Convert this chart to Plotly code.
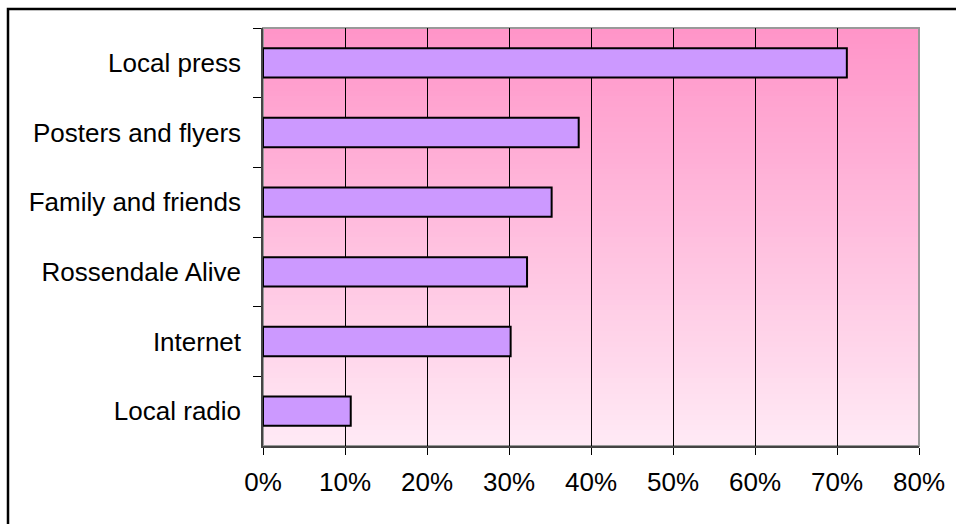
import plotly.graph_objects as go

categories = ["Local press", "Posters and flyers", "Family and friends",
              "Rossendale Alive", "Internet", "Local radio"]
values = [71.2, 38.5, 35.2, 32.2, 30.2, 10.7]
x_ticks = [0, 10, 20, 30, 40, 50, 60, 70, 80]
x_tick_labels = [f"{v}%" for v in x_ticks]

W, H = 956, 524
PL, PR, PT, PB = 263, 919, 28, 446  # plot area in pixels
FONT = "Liberation Sans, Arial, sans-serif"

fig = go.Figure()
fig.add_trace(go.Bar(
    x=values, y=categories, orientation="h",
    marker=dict(color="#cc99ff", line=dict(color="#000000", width=2)),
    hoverinfo="x+y",
))

# vertical gradient background of the plot area
shapes = []
N = 80
top = (255, 148, 200)
bot = (255, 234, 245)
for i in range(N):
    t = (i + 0.5) / N  # 0 bottom -> 1 top
    c = tuple(round(bot[k] + (top[k] - bot[k]) * t) for k in range(3))
    shapes.append(dict(type="rect", xref="paper", yref="paper",
                       x0=0, x1=1, y0=i / N, y1=(i + 1) / N + 0.002,
                       fillcolor=f"rgb{c}", line=dict(width=0), layer="below"))
# grey plot border
shapes.append(dict(type="rect", xref="paper", yref="paper", x0=0, x1=1, y0=0, y1=1,
                   line=dict(color="#999999", width=2), fillcolor="rgba(0,0,0,0)",
                   layer="below"))

# outer chart frame (extends beyond the right and bottom of the picture)
pw, ph = PR - PL, PB - PT
def px_x(p):
    return (p - PL) / pw
def px_y(p):
    return (PB - p) / ph
shapes.append(dict(type="rect", xref="paper", yref="paper",
                   x0=px_x(8), x1=px_x(975), y0=px_y(545), y1=px_y(9),
                   line=dict(color="#000000", width=2.5), fillcolor="rgba(0,0,0,0)",
                   layer="above"))

fig.update_layout(
    width=W, height=H,
    margin=dict(l=PL, r=W - PR, t=PT, b=H - PB, pad=0),
    paper_bgcolor="white",
    plot_bgcolor="rgba(0,0,0,0)",
    showlegend=False,
    bargap=0.58,
    font=dict(family=FONT, size=26, color="#000000"),
    shapes=shapes,
    xaxis=dict(
        range=[0, 80], tickvals=x_ticks, ticktext=x_tick_labels,
        showgrid=True, gridcolor="#000000", gridwidth=1,
        zeroline=False, showline=True, linecolor="#444444", linewidth=1.5,
        ticks="outside", ticklen=7, tickcolor="#000000", tickwidth=1,
        ticklabelstandoff=5, fixedrange=True,
    ),
    yaxis=dict(
        autorange="reversed", type="category",
        showgrid=False, zeroline=False, showline=True, linecolor="#444444", linewidth=1.5,
        ticks="outside", ticklen=8, tickcolor="#000000", tickwidth=1,
        tickson="boundaries", ticklabelstandoff=15, fixedrange=True,
    ),
)

fig.write_html(
    "out.html",
    config={"displayModeBar": False},
    post_script="document.body.style.margin='0';document.body.style.overflow='hidden';",
)
